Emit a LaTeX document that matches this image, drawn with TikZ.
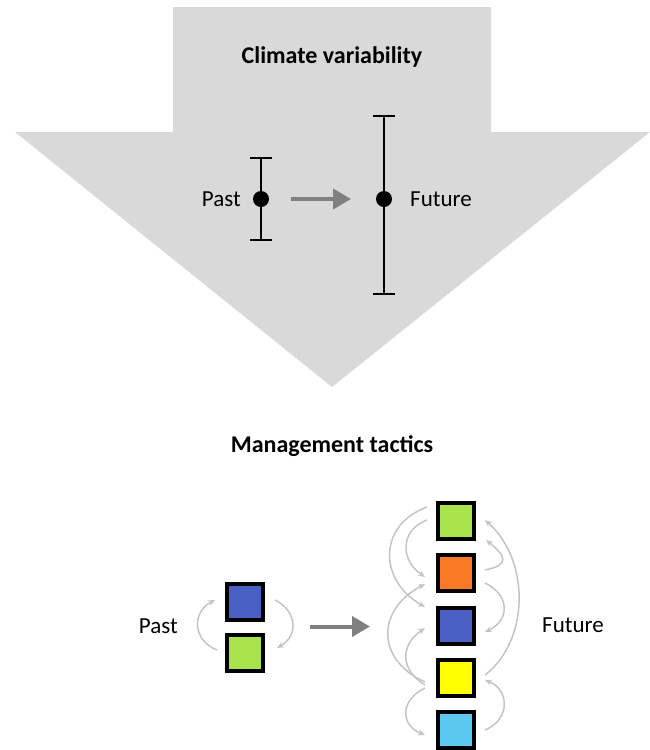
\documentclass[tikz,border=0pt]{standalone}
\usepackage{fontspec}
\setmainfont{Carlito}
\usetikzlibrary{arrows.meta,calc}

\definecolor{bannergray}{HTML}{D9D9D9}
\definecolor{arrowgray}{HTML}{808080}
\definecolor{flowgray}{HTML}{C4C4C4}
\definecolor{tgreen}{HTML}{A9E34B}
\definecolor{torange}{HTML}{F97A24}
\definecolor{tblue}{HTML}{4A5FC3}
\definecolor{tyellow}{HTML}{FFFF00}
\definecolor{tcyan}{HTML}{5BC8EF}

\begin{document}
\begin{tikzpicture}[x=1pt,y=-1pt,
  lbl/.style={font=\fontsize{23}{27}\selectfont, inner sep=0},
  ttl/.style={font=\fontsize{24}{28}\selectfont\bfseries, inner sep=0},
  dot/.style={circle, fill=black, minimum size=16pt, inner sep=0},
  bar/.style={line width=2pt, black},
  shiftarrow/.style={line width=4pt, draw=arrowgray, -{Triangle[length=18pt,width=20pt]}},
  tactic/.style={draw=black, line width=4pt, minimum size=36pt, inner sep=0},
  flow/.style={draw=flowgray, line width=1.5pt, -{Stealth[length=7pt,width=6pt]}},
]
\useasboundingbox (0,0) rectangle (650,750);

% big downward banner arrow
\fill[bannergray] (173,7) -- (491,7) -- (491,132) -- (650,132) -- (332,387)
  -- (15,132) -- (173,132) -- cycle;
\node[ttl] (ctitle) at (332,57) {Climate variability};

% error bars: past and future range
\coordinate (pc) at (261,199);
\coordinate (fc) at (384,199);
\draw[bar] ($(pc)+(0,-41)$) -- ($(pc)+(0,41)$);
\draw[bar] ($(pc)+(-11,-41)$) -- ++(22,0);
\draw[bar] ($(pc)+(-11,41)$) -- ++(22,0);
\draw[bar] ($(fc)+(0,-83)$) -- ($(fc)+(0,95)$);
\draw[bar] ($(fc)+(-11,-83)$) -- ++(22,0);
\draw[bar] ($(fc)+(-11,95)$) -- ++(22,0);
\node[dot] (pd) at (pc) {};
\node[dot] (fd) at (fc) {};
\node[lbl, anchor=east] (plabel) at (241,199) {Past};
\node[lbl, anchor=west] (flabel) at (410,199) {Future};
\draw[shiftarrow] ($(pd)+(30,0)$) -- ($(fd)+(-33,0)$);

% management tactics
\node[ttl] (mtitle) at (332,446) {Management tactics};

% past tactics
\node[tactic, fill=tblue] (b0) at (245,601.5) {};
\node[tactic, fill=tgreen] (g0) at (245,652.5) {};
\node[lbl, anchor=east] (plabel2) at (178,626) {Past};
\draw[flow] ($(g0)+(-28,-2.5)$) .. controls +(-25,-10) and +(-23,12) .. ($(b0)+(-30,-1.5)$);
\draw[flow] ($(b0)+(30,-1.5)$) .. controls +(23,12) and +(21,-12) .. ($(g0)+(32,-4.5)$);

\draw[shiftarrow] ($(b0)+(65,25)$) -- ($(b0)+(125,25)$);

% future tactics
\node[tactic, fill=tgreen]  (s1) at (456,521) {};
\node[tactic, fill=torange] (s2) at (456,573) {};
\node[tactic, fill=tblue]   (s3) at (456,626) {};
\node[tactic, fill=tyellow] (s4) at (456,678) {};
\node[tactic, fill=tcyan]   (s5) at (456,730) {};
\node[lbl, anchor=west] (flabel2) at (542,625) {Future};

% switches on the left side
\draw[flow] ($(s1)+(-29,-14)$) .. controls +(-49,18) and +(-47,-27) .. ($(s3)+(-31,-19)$);
\draw[flow] ($(s1)+(-29,-1)$) .. controls +(-27,10) and +(-25,-17) .. ($(s2)+(-31,4)$);
\draw[flow] ($(s4)+(-31,4)$) .. controls +(-49,-22) and +(-49,26) .. ($(s2)+(-31,11)$);
\draw[flow] ($(s4)+(-31,7)$) .. controls +(-25,-15) and +(-25,17) .. ($(s3)+(-31,2)$);
\draw[flow] ($(s4)+(-31,10)$) .. controls +(-25,12) and +(-25,-10) .. ($(s5)+(-31,5)$);

% switches on the right side
\draw[flow] ($(s2)+(29,-3)$) .. controls +(25,-5) and +(20,16) .. ($(s1)+(30,19)$);
\draw[flow] ($(s4)+(29,-3)$) .. controls +(45,-35) and +(45,40) .. ($(s1)+(29,-1)$);
\draw[flow] ($(s2)+(29,10)$) .. controls +(25,12) and +(25,-12) .. ($(s3)+(29,6)$);
\draw[flow] ($(s5)+(29,0)$) .. controls +(25,-10) and +(25,10) .. ($(s4)+(29,2)$);
\end{tikzpicture}
\end{document}
